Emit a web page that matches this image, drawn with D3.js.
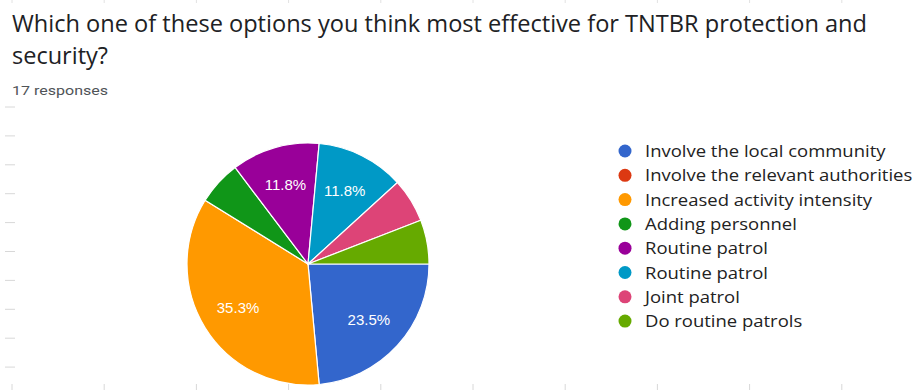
<!DOCTYPE html>
<html>
<head>
<meta charset="utf-8">
<script src="https://cdn.jsdelivr.net/npm/d3@7"></script>
<style>
  body { margin: 0; background: #fff; }
  svg { display: block; }
</style>
</head>
<body>
<div id="chart"></div>
<script>
const titleLines = ["Which one of these options you think most effective for TNTBR protection and", "security?"];
const subtitle = "17 responses";
const categories = [
    "Involve the local community",
    "Involve the relevant authorities",
    "Increased activity intensity",
    "Adding personnel",
    "Routine patrol",
    "Routine patrol",
    "Joint patrol",
    "Do routine patrols"
];
const counts = [4, 0, 6, 1, 2, 2, 1, 1];
const colors = ["#3366cc", "#dc3912", "#ff9900", "#109618", "#990099", "#0099c6", "#dd4477", "#66aa00"];

const width = 917, height = 390;

const svg = d3.select("#chart")
    .append("svg")
    .attr("width", width)
    .attr("height", height);

// faint ruler marks from the screenshot
const tickX = d3.range(12, width, 92.2);
const tickY = d3.range(107, 380, 28.9);
svg.append("g").selectAll("line.tb")
    .data(tickX)
    .enter().append("line")
    .attr("x1", d => d).attr("x2", d => d)
    .attr("y1", 384).attr("y2", 390)
    .attr("stroke", "#d8d8d8");
svg.append("g").selectAll("line.tt")
    .data(tickX)
    .enter().append("line")
    .attr("x1", d => d).attr("x2", d => d)
    .attr("y1", 0).attr("y2", 3)
    .attr("stroke", "#e2e2e2");
svg.append("g").selectAll("line.tl")
    .data(tickY)
    .enter().append("line")
    .attr("x1", 5).attr("x2", 15)
    .attr("y1", d => d).attr("y2", d => d)
    .attr("stroke", "#d8d8d8");

// title
const titleWidths = [855, 96];
svg.selectAll("text.title")
    .data(titleLines)
    .enter().append("text")
    .attr("class", "title")
    .attr("x", 12)
    .attr("y", (d, i) => 32 + i * 32)
    .attr("font-family", "Open Sans, sans-serif")
    .attr("font-size", 23)
    .attr("fill", "#202124")
    .attr("textLength", (d, i) => titleWidths[i])
    .attr("lengthAdjust", "spacingAndGlyphs")
    .text(d => d);

svg.append("text")
    .attr("x", 12)
    .attr("y", 95)
    .attr("font-family", "Roboto, sans-serif")
    .attr("font-size", 13)
    .attr("fill", "#505458")
    .attr("textLength", 96)
    .attr("lengthAdjust", "spacingAndGlyphs")
    .text(subtitle);

// pie
const cx = 308, cy = 264, radius = 121;
const total = d3.sum(counts);
const pie = d3.pie().sort(null).startAngle(Math.PI / 2).endAngle(Math.PI / 2 + 2 * Math.PI);
const arcs = pie(counts);
const arc = d3.arc().innerRadius(0).outerRadius(radius);
const labelArc = d3.arc().innerRadius(radius * 0.68).outerRadius(radius * 0.68);

const g = svg.append("g").attr("transform", `translate(${cx},${cy})`);
g.selectAll("path")
    .data(arcs)
    .enter().append("path")
    .attr("d", arc)
    .attr("fill", (d, i) => colors[i])
    .attr("stroke", "#fff")
    .attr("stroke-width", d => d.value > 0 ? 1.2 : 0);

g.selectAll("text")
    .data(arcs.filter(d => d.value / total > 0.1))
    .enter().append("text")
    .attr("transform", d => `translate(${labelArc.centroid(d)})`)
    .attr("text-anchor", "middle")
    .attr("dy", "0.36em")
    .attr("font-family", "Arial, Liberation Sans, sans-serif")
    .attr("font-size", 15)
    .attr("fill", "#fff")
    .text(d => (d.value / total * 100).toFixed(1) + "%");

// legend
const legendStretch = 1.1;
const legend = svg.append("g").attr("transform", "translate(625,151)");
const rows = legend.selectAll("g")
    .data(categories)
    .enter().append("g")
    .attr("transform", (d, i) => `translate(0,${i * 24.3})`);
rows.append("circle")
    .attr("r", 6.5)
    .attr("fill", (d, i) => colors[i]);
rows.append("text")
    .attr("transform", `translate(20,0) scale(${legendStretch},1)`)
    .attr("dy", "0.36em")
    .attr("font-family", "Open Sans, sans-serif")
    .attr("font-size", 16.8)
    .attr("fill", "#222")
    .text(d => d);
</script>
</body>
</html>
